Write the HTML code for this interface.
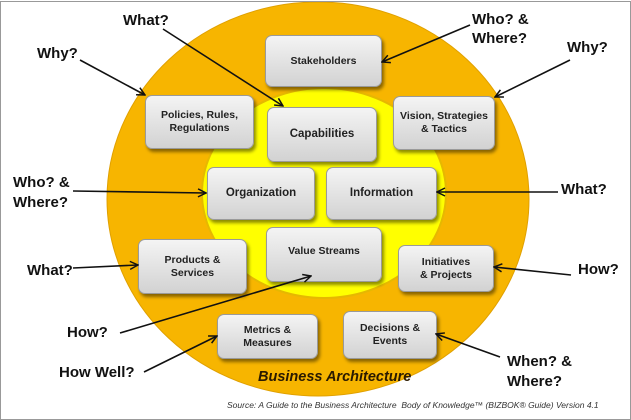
<!DOCTYPE html><html><head><style>
body{margin:0;width:631px;height:420px;background:#fff;position:relative;overflow:hidden;font-family:"Liberation Sans",sans-serif}
.b{position:absolute;border-radius:7px;background:linear-gradient(#f4f4f4,#d2d2d2);border:1px solid #9a9a9a;box-shadow:2px 3px 3px rgba(0,0,0,.45);display:flex;align-items:center;justify-content:center;text-align:center;font-weight:bold;font-size:10.5px;line-height:13px;color:#222}
.l{position:absolute;font-weight:bold;font-size:15px;line-height:19px;color:#111;white-space:nowrap}
</style></head><body>
<svg width="631" height="420" style="position:absolute;left:0;top:0">
<ellipse cx="318" cy="199" rx="211" ry="197" fill="#f7b500" stroke="#e0a000"/>
<ellipse cx="324" cy="193" rx="122" ry="105" fill="#ffff00" stroke="#e6b800" stroke-width="2"/>
<rect x="0.5" y="1.5" width="630" height="418" fill="none" stroke="#999"/>
</svg>
<div class="b" style="left:265px;top:35px;width:115px;height:50px">Stakeholders</div>
<div class="b" style="left:145px;top:95px;width:107px;height:52px">Policies, Rules,<br>Regulations</div>
<div class="b" style="left:267px;top:107px;width:108px;height:53px;font-size:11.5px">Capabilities</div>
<div class="b" style="left:393px;top:96px;width:100px;height:52px">Vision, Strategies<br>&amp; Tactics</div>
<div class="b" style="left:207px;top:167px;width:106px;height:51px;font-size:11.5px">Organization</div>
<div class="b" style="left:326px;top:167px;width:109px;height:51px;font-size:11.5px">Information</div>
<div class="b" style="left:138px;top:239px;width:107px;height:53px">Products &amp;<br>Services</div>
<div class="b" style="left:266px;top:227px;width:114px;height:53px;align-items:flex-start"><span style="margin-top:17px">Value Streams</span></div>
<div class="b" style="left:398px;top:245px;width:94px;height:45px">Initiatives<br>&amp; Projects</div>
<div class="b" style="left:217px;top:314px;width:99px;height:43px">Metrics &amp;<br>Measures</div>
<div class="b" style="left:343px;top:311px;width:92px;height:46px">Decisions &amp;<br>Events</div>
<svg width="631" height="420" style="position:absolute;left:0;top:0">
<defs><marker id="a" markerWidth="10" markerHeight="10" refX="9" refY="5" orient="auto" markerUnits="userSpaceOnUse"><path d="M1,1 L9,5 L1,9" fill="none" stroke="#111" stroke-width="1.5"/></marker></defs>
<g stroke="#111" stroke-width="1.6" marker-end="url(#a)">
<line x1="163" y1="29" x2="283" y2="106"/>
<line x1="470" y1="25" x2="382" y2="62"/>
<line x1="80" y1="60" x2="145" y2="95"/>
<line x1="570" y1="60" x2="495" y2="97"/>
<line x1="73" y1="191" x2="206" y2="193"/>
<line x1="558" y1="192" x2="437" y2="192"/>
<line x1="73" y1="268" x2="138" y2="265"/>
<line x1="571" y1="275" x2="494" y2="267"/>
<line x1="120" y1="333" x2="311" y2="276"/>
<line x1="144" y1="372" x2="217" y2="336"/>
<line x1="500" y1="357" x2="436" y2="334"/>
</g>
</svg>
<div class="l" style="left:123px;top:11px">What?</div>
<div class="l" style="left:472px;top:10px">Who? &amp;<br>Where?</div>
<div class="l" style="left:37px;top:44px">Why?</div>
<div class="l" style="left:567px;top:38px">Why?</div>
<div class="l" style="left:13px;top:173px;line-height:20px">Who? &amp;<br>Where?</div>
<div class="l" style="left:561px;top:180px">What?</div>
<div class="l" style="left:27px;top:261px">What?</div>
<div class="l" style="left:578px;top:260px">How?</div>
<div class="l" style="left:67px;top:323px">How?</div>
<div class="l" style="left:59px;top:363px">How Well?</div>
<div class="l" style="left:507px;top:352px;line-height:20px">When? &amp;<br>Where?</div>
<div style="position:absolute;left:258px;top:369px;font-weight:bold;font-style:italic;font-size:14.5px;color:#2a1a00">Business Architecture</div>
<div style="position:absolute;left:227px;top:400px;font-style:italic;font-size:8.5px;color:#333;white-space:nowrap">Source: A Guide to the Business Architecture&nbsp; Body of Knowledge™ (BIZBOK® Guide) Version 4.1</div>
</body></html>
